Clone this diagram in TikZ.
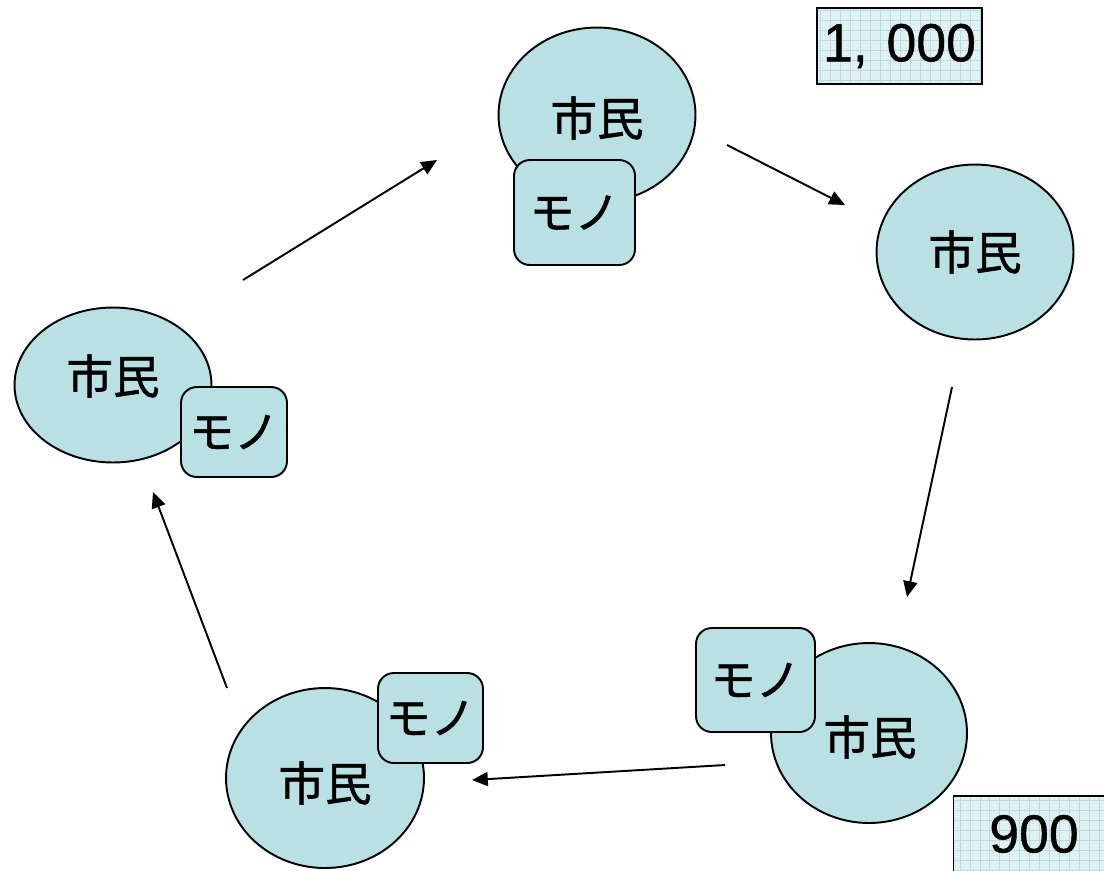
\documentclass[tikz,border=0pt]{standalone}
\usepackage{fontspec}
\newfontfamily\jp[FakeBold=1.2]{Noto Sans CJK JP}
\newfontfamily\num[FakeBold=0.8]{Liberation Sans}
\usetikzlibrary{shapes.geometric,arrows.meta}
\definecolor{cell}{HTML}{B9E0E3}
\definecolor{paper}{HTML}{E0F1F3}
\definecolor{rule}{HTML}{B8DCDF}
\tikzset{
  citizen/.style={ellipse, draw=black, line width=1.1pt, fill=cell, inner sep=0pt,
    font=\jp\fontsize{26.5}{28}\selectfont},
  label/.style={font=\jp\fontsize{26.5}{28}\selectfont, inner sep=0pt},
  goods/.style={rectangle, rounded corners=9pt, draw=black, line width=1.1pt, fill=cell,
    inner sep=0pt, font=\jp\fontsize{25.5}{28}\selectfont},
  flow/.style={-{Triangle[length=9pt,width=8pt]}, line width=1.1pt},
  price/.style={rectangle, draw=black, line width=1.1pt, inner sep=0pt,
    font=\num\fontsize{30.5}{32}\selectfont}
}
\begin{document}
\begin{tikzpicture}[x=0.02cm, y=-0.02cm]
\useasboundingbox (0,0) rectangle (1104,870);

% price tags with a fine grid
\begin{scope}
  \fill[paper] (817,8) rectangle (982,84);
  \clip (817,8) rectangle (982,84);
  \draw[rule, line width=0.35pt, step=0.2cm] (810,0) grid (990,90);
\end{scope}
\node[price, minimum width=3.3cm, minimum height=1.52cm] (p1) at (899.5,46) {1,\hspace{0.35em}000};

\begin{scope}
  \fill[paper] (953,795) rectangle (1110,875);
  \clip (953,795) rectangle (1110,875);
  \draw[rule, line width=0.35pt, step=0.2cm] (950,790) grid (1110,880);
\end{scope}
\draw[black, line width=1.1pt] (1106,796) -- (953.5,796) -- (953.5,872);
\node[font=\num\fontsize{30.5}{32}\selectfont] (p2) at (1034,834) {900};

% citizens
\node[citizen, minimum width=3.94cm, minimum height=3.5cm] (cT) at (597,115) {};
\node[label] (tT) at (597,118) {市民};
\node[citizen, minimum width=3.94cm, minimum height=3.5cm] (cR) at (975,252) {市民};
\node[citizen, minimum width=3.94cm, minimum height=3.1cm] (cL) at (113,385) {};
\node[label] (tL) at (113,376) {市民};
\node[citizen, minimum width=3.92cm, minimum height=3.6cm] (cBR) at (869,733) {};
\node[label] (tBR) at (870,737) {市民};
\node[citizen, minimum width=3.96cm, minimum height=3.6cm] (cBL) at (325,778) {};
\node[label] (tBL) at (325,783) {市民};

% goods
\node[goods, minimum width=2.42cm, minimum height=2.1cm] (gT) at (574.5,212.5) {モノ};
\node[goods, minimum width=2.12cm, minimum height=1.8cm] (gL) at (234,432) {モノ};
\node[goods, minimum width=2.38cm, minimum height=2.08cm] (gBR) at (755.5,680) {モノ};
\node[goods, minimum width=2.1cm, minimum height=1.8cm] (gBL) at (430.5,718) {モノ};

% circulation
\coordinate (a1) at (243,280); \coordinate (b1) at (437,160);
\coordinate (a2) at (727,145); \coordinate (b2) at (845,205);
\coordinate (a3) at (952,387); \coordinate (b3) at (907,597);
\coordinate (a4) at (725,765); \coordinate (b4) at (472,780);
\coordinate (a5) at (227,688); \coordinate (b5) at (153,492);
\draw[flow] (a1) -- (b1);
\draw[flow] (a2) -- (b2);
\draw[flow] (a3) -- (b3);
\draw[flow] (a4) -- (b4);
\draw[flow] (a5) -- (b5);
\end{tikzpicture}
\end{document}
